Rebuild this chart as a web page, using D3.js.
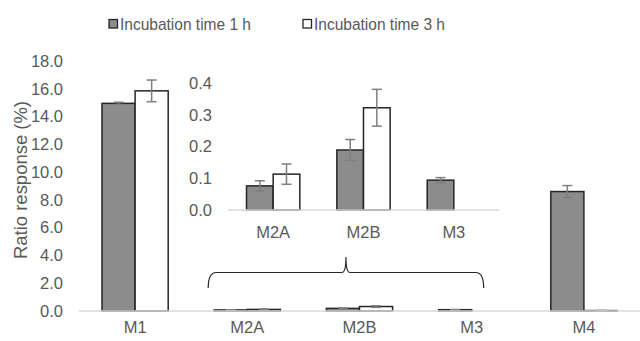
<!DOCTYPE html>
<html>
<head>
<meta charset="utf-8">
<script src="https://cdn.jsdelivr.net/npm/d3@7"></script>
<style>
  body { margin: 0; background: #fff; }
  text { font-family: "Liberation Sans", Arial, sans-serif; fill: #595959; }
</style>
</head>
<body>
<svg id="chart" width="640" height="341"></svg>
<script>
const categories = ["M1", "M2A", "M2B", "M3", "M4"];
const seriesNames = ["Incubation time 1 h", "Incubation time 3 h"];
const values1h = [14.95, 0.076, 0.189, 0.094, 8.6];
const values3h = [15.85, 0.113, 0.322, null, 0.03];
const err1h = [0.08, 0.016, 0.033, 0.008, 0.43];
const err3h = [0.78, 0.032, 0.058, null, 0.01];
const mainTicks = [0, 2, 4, 6, 8, 10, 12, 14, 16, 18];
const insetCategories = ["M2A", "M2B", "M3"];
const insetTicks = [0, 0.1, 0.2, 0.3, 0.4];

const fills = ["#8c8c8c", "#ffffff"];
const fontSize = 16.5;
const svg = d3.select("#chart");

const rows = categories.map((c, i) => ({
  cat: c,
  vals: [values1h[i], values3h[i]],
  errs: [err1h[i], err3h[i]]
}));

function drawBars(g, data, x, y, inner) {
  const grp = g.selectAll("g.cat").data(data).join("g")
    .attr("transform", d => `translate(${x(d.cat)},0)`);
  grp.each(function(d) {
    const sel = d3.select(this);
    d.vals.forEach((v, k) => {
      if (v == null) return;
      sel.append("rect")
        .attr("x", inner(k))
        .attr("width", inner.bandwidth())
        .attr("y", y(v))
        .attr("height", y(0) - y(v))
        .attr("fill", fills[k])
        .attr("stroke", "#262626")
        .attr("stroke-width", 1.5);
    });
    d.vals.forEach((v, k) => {
      const e = d.errs[k];
      if (v == null || e == null) return;
      const cx = inner(k) + inner.bandwidth() / 2;
      const eg = sel.append("g").attr("stroke", "#7f7f7f").attr("stroke-width", 1.5);
      eg.append("line").attr("x1", cx).attr("x2", cx).attr("y1", y(v + e)).attr("y2", y(v - e));
      eg.append("line").attr("x1", cx - 5).attr("x2", cx + 5).attr("y1", y(v + e)).attr("y2", y(v + e));
      eg.append("line").attr("x1", cx - 5).attr("x2", cx + 5).attr("y1", y(v - e)).attr("y2", y(v - e));
    });
  });
}

// main chart
const x = d3.scaleBand().domain(categories).range([79, 640]).paddingInner(0.41).paddingOuter(0.205);
const y = d3.scaleLinear().domain([0, 18]).range([311, 61]);
const inner = d3.scaleBand().domain([0, 1]).range([0, x.bandwidth()]);

const yAxis = svg.append("g").attr("transform", "translate(63,0)")
  .call(d3.axisLeft(y).tickValues(mainTicks).tickFormat(d3.format(".1f")).tickSize(0).tickPadding(0));
yAxis.select(".domain").remove();
yAxis.selectAll("text").attr("font-size", fontSize).attr("font-family", null).style("fill", "#595959");

drawBars(svg.append("g"), rows, x, y, inner);

svg.append("line").attr("x1", 79).attr("x2", 640).attr("y1", y(0)).attr("y2", y(0))
  .attr("stroke", "#d9d9d9").attr("stroke-width", 1.3);

const xAxis = svg.append("g").attr("transform", `translate(0,${y(0)})`)
  .call(d3.axisBottom(x).tickSize(0).tickPadding(10));
xAxis.select(".domain").remove();
xAxis.selectAll("text").attr("font-size", fontSize).attr("font-family", null).style("fill", "#595959");

svg.append("text")
  .attr("transform", "translate(27,180) rotate(-90)")
  .attr("text-anchor", "middle")
  .attr("font-size", 17.5)
  .attr("textLength", 158).attr("lengthAdjust", "spacingAndGlyphs")
  .text("Ratio response (%)");

// inset chart
const insetRows = rows.filter(r => insetCategories.includes(r.cat));
const xi = d3.scaleBand().domain(insetCategories).range([228, 499]).paddingInner(0.41).paddingOuter(0.205);
const yi = d3.scaleLinear().domain([0, 0.4]).range([210, 83]);
const inneri = d3.scaleBand().domain([0, 1]).range([0, xi.bandwidth()]);

const yAxisI = svg.append("g").attr("transform", "translate(212,0)")
  .call(d3.axisLeft(yi).tickValues(insetTicks).tickFormat(d3.format(".1f")).tickSize(0).tickPadding(0));
yAxisI.select(".domain").remove();
yAxisI.selectAll("text").attr("font-size", fontSize).attr("font-family", null).style("fill", "#595959");

drawBars(svg.append("g"), insetRows, xi, yi, inneri);

svg.append("line").attr("x1", 228).attr("x2", 499).attr("y1", yi(0)).attr("y2", yi(0))
  .attr("stroke", "#d9d9d9").attr("stroke-width", 1.3);

const xAxisI = svg.append("g").attr("transform", `translate(0,${yi(0)})`)
  .call(d3.axisBottom(xi).tickSize(0).tickPadding(16));
xAxisI.select(".domain").remove();
xAxisI.selectAll("text").attr("font-size", fontSize).attr("font-family", null).style("fill", "#595959");

// brace over the small categories
const bx0 = x("M2A") - 6, bx1 = x("M3") + x.bandwidth() / 2 + 12;
const bm = (bx0 + bx1) / 2, by = 272.5;
svg.append("path")
  .attr("d", `M${bx0},288 Q${bx0},${by} ${bx0 + 8},${by} L${bm - 4},${by} Q${bm},${by} ${bm},257 Q${bm},${by} ${bm + 4},${by} L${bx1 - 8},${by} Q${bx1},${by} ${bx1},288`)
  .attr("fill", "none").attr("stroke", "#262626").attr("stroke-width", 1.2);

// legend
const legend = svg.append("g");
const legendX = [109, 303];
seriesNames.forEach((n, k) => {
  legend.append("rect").attr("x", legendX[k]).attr("y", 19.5).attr("width", 8.5).attr("height", 8.5)
    .attr("fill", fills[k]).attr("stroke", "#262626").attr("stroke-width", 1.3);
  legend.append("text").attr("x", legendX[k] + 11).attr("y", 30).attr("font-size", 17)
    .attr("textLength", 131).attr("lengthAdjust", "spacingAndGlyphs").text(n);
});
</script>
</body>
</html>
